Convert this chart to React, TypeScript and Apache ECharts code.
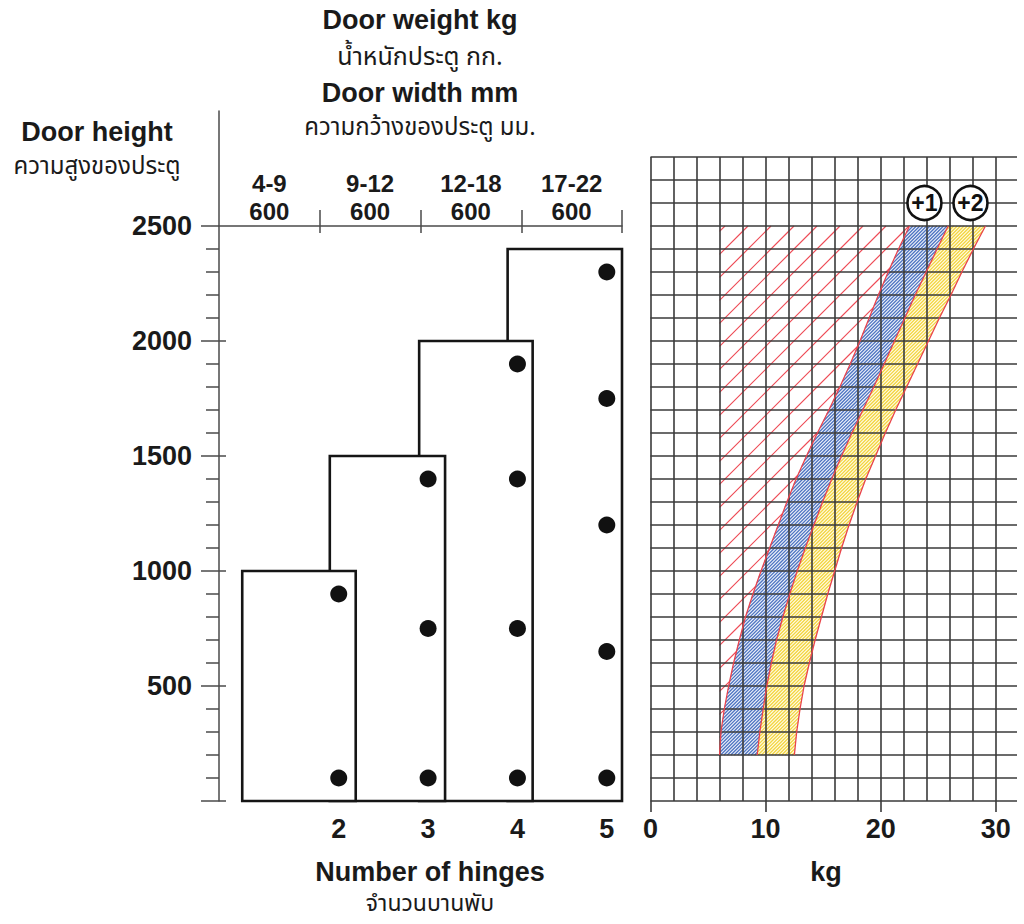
import React, { useEffect, useRef } from "react";
import * as echarts from "echarts";

// ---------- Data ----------
const weightRanges = ["4-9", "9-12", "12-18", "17-22"];
const doorWidths = ["600", "600", "600", "600"];
const headerCenters = [0.5, 1.5, 2.5, 3.5];
const headerSeparators = [1, 2, 3, 4];

const hingeCounts = [2, 3, 4, 5];
const maxDoorHeights = [1000, 1500, 2000, 2400];
const rectLeft = [0.92, 1.9, 2.9, 3.89];
const rectRight = [2.19, 3.19, 4.17, 5.17];
const hingePositions = [
  [900, 100],
  [1400, 750, 100],
  [1900, 1400, 750, 100],
  [2300, 1750, 1200, 650, 100],
];

const heightLabels = [500, 1000, 1500, 2000, 2500];
const heightMajorTicks = [0, 500, 1000, 1500, 2000, 2500];
const heightInnerTicks = [0, 500, 1000, 1500, 2000];
const heightMinorTicks = [
  100, 200, 300, 400, 600, 700, 800, 900, 1100, 1200, 1300, 1400, 1600, 1700,
  1800, 1900, 2100, 2200, 2300, 2400,
];

const curveHeights = [
  200, 300, 400, 500, 600, 700, 800, 900, 1000, 1100, 1200, 1300, 1400, 1500,
  1600, 1700, 1800, 1900, 2000, 2100, 2200, 2300, 2400, 2500,
];
const bandLowerKg = [
  6.0, 6.12, 6.41, 6.79, 7.22, 7.72, 8.25, 8.9, 9.6, 10.35, 11.1, 11.85, 12.65,
  13.55, 14.5, 15.5, 16.45, 17.35, 18.2, 19.0, 19.8, 20.65, 21.55, 22.5,
];
const bandMidKg = [
  9.27, 9.5, 9.79, 10.1, 10.5, 10.95, 11.5, 12.1, 12.75, 13.45, 14.2, 14.95,
  15.75, 16.6, 17.5, 18.45, 19.4, 20.3, 21.2, 22.1, 23.0, 23.95, 24.9, 25.86,
];
const bandUpperKg = [
  12.5, 12.7, 12.99, 13.34, 13.8, 14.3, 14.85, 15.4, 16.0, 16.6, 17.25, 17.95,
  18.7, 19.55, 20.4, 21.3, 22.25, 23.2, 24.15, 25.1, 26.1, 27.05, 28.05, 29.1,
];
const hatchMinKg = 6;
const weightTicks = [0, 10, 20, 30];
const markerLabels = ["+1", "+2"];
const markerKg = [23.8, 27.8];
const markerHeight = 2600;

// ---------- Helpers ----------
const FONT = "'Liberation Sans', Arial, Helvetica, sans-serif";
const THAI = "'Noto Sans Thai', 'Noto Sans Thai Looped', 'Loma', 'Garuda', 'Noto Sans', 'DejaVu Sans', sans-serif";

function hatchPath(poly: number[][], step: number, phase: number): string {
  let minC = Infinity;
  let maxC = -Infinity;
  for (const p of poly) {
    const c = p[0] + p[1];
    if (c < minC) minC = c;
    if (c > maxC) maxC = c;
  }
  const n = poly.length;
  let d = "";
  const c0 = Math.ceil((minC - phase) / step) * step + phase;
  for (let c = c0; c <= maxC; c += step) {
    const xs: number[] = [];
    for (let i = 0; i < n; i++) {
      const P = poly[i];
      const Q = poly[(i + 1) % n];
      const a = P[0] + P[1];
      const b = Q[0] + Q[1];
      if ((a <= c && b > c) || (b <= c && a > c)) {
        const t = (c - a) / (b - a);
        xs.push(P[0] + t * (Q[0] - P[0]));
      }
    }
    xs.sort((u, v) => u - v);
    for (let k = 0; k + 1 < xs.length; k += 2) {
      const x1 = xs[k];
      const x2 = xs[k + 1];
      d += `M${x1.toFixed(2)} ${(c - x1).toFixed(2)}L${x2.toFixed(2)} ${(c - x2).toFixed(2)}`;
    }
  }
  return d;
}

function hatchSeries(
  region: number[][],
  fill: string,
  stroke: string,
  step: number,
  phase: number,
  lineWidth: number
) {
  return {
    type: "custom",
    xAxisIndex: 5,
    yAxisIndex: 5,
    z: 1,
    silent: true,
    data: [[0, 0]],
    renderItem: (_params: any, api: any) => {
      const pts = region.map((p) => api.coord(p));
      return {
        type: "group",
        children: [
          {
            type: "polygon",
            shape: { points: pts },
            style: { fill, stroke: "none" },
          },
          {
            type: "path",
            shape: { pathData: hatchPath(pts, step, phase) },
            style: { fill: "none", stroke, lineWidth },
          },
        ],
      };
    },
  };
}

const lowerPts = curveHeights.map((h, i) => [bandLowerKg[i], h]);
const midPts = curveHeights.map((h, i) => [bandMidKg[i], h]);
const upperPts = curveHeights.map((h, i) => [bandUpperKg[i], h]);

const redRegion = [
  [hatchMinKg, curveHeights[curveHeights.length - 1]],
  [hatchMinKg, curveHeights[0]],
  ...lowerPts,
];
const blueRegion = [...lowerPts, ...midPts.slice().reverse()];
const yellowRegion = [...midPts, ...upperPts.slice().reverse()];

export default function App() {
  const ref = useRef<HTMLDivElement>(null);

  useEffect(() => {
    if (!ref.current) return;
    const chart = echarts.init(ref.current, undefined, { renderer: "svg" });

    const axisColor = "#4a4a4a";
    const gridColor = "#3a3a3a";
    const labelStyle = { fontFamily: FONT, fontWeight: "bold", fontSize: 27, color: "#1a1a1a" };
    const headerStyle = { fontFamily: FONT, fontWeight: "bold", fontSize: 24, color: "#1a1a1a" };
    const plain = (v: number) => String(v);

    const dots: number[][] = [];
    hingeCounts.forEach((n, i) => hingePositions[i].forEach((h) => dots.push([n, h])));

    const option: any = {
      animation: false,
      backgroundColor: "#ffffff",
      grid: [
        { left: 219, top: 111, width: 403, height: 690 }, // 0 left chart
        { left: 219, top: 150, width: 403, height: 76 }, // 1 header axis
        { left: 650.5, top: 157, width: 366.5, height: 644 }, // 2 horizontal grid lines
        { left: 650.5, top: 157, width: 345.3, height: 644 }, // 3 right chart
      ],
      xAxis: [
        {
          gridIndex: 0,
          type: "value",
          min: 0.66,
          max: 5.17,
          axisLine: { show: false },
          axisTick: { show: false },
          splitLine: { show: false },
          axisLabel: { ...labelStyle, customValues: hingeCounts, margin: 14, formatter: plain },
        },
        {
          gridIndex: 1,
          type: "value",
          position: "bottom",
          min: 0,
          max: 4,
          axisLine: { show: true, lineStyle: { color: axisColor, width: 1.5 } },
          axisTick: {
            show: true,
            inside: true,
            length: 16,
            customValues: headerSeparators,
            lineStyle: { color: axisColor, width: 1.5 },
          },
          splitLine: { show: false },
          axisLabel: {
            ...headerStyle,
            inside: true,
            margin: 3,
            customValues: headerCenters,
            formatter: (v: number) => doorWidths[Math.floor(v)],
          },
        },
        {
          gridIndex: 1,
          type: "value",
          position: "bottom",
          min: 0,
          max: 4,
          axisLine: { show: false },
          axisTick: {
            show: true,
            length: 7,
            customValues: headerSeparators,
            lineStyle: { color: axisColor, width: 1.5 },
          },
          splitLine: { show: false },
          axisLabel: {
            ...headerStyle,
            inside: true,
            margin: 31,
            customValues: headerCenters,
            formatter: (v: number) => weightRanges[Math.floor(v)],
          },
        },
        { gridIndex: 2, type: "value", min: 0, max: 1, show: false },
        {
          gridIndex: 3,
          type: "value",
          min: 0,
          max: 30,
          z: 3,
          axisLine: { show: false },
          axisTick: {
            show: true,
            length: 11,
            customValues: weightTicks,
            lineStyle: { color: gridColor, width: 1.6 },
          },
          splitLine: { show: false },
          axisLabel: { ...labelStyle, customValues: weightTicks, margin: 14, formatter: plain },
        },
        {
          gridIndex: 3,
          type: "value",
          min: 0,
          max: 30,
          interval: 2,
          z: 3,
          axisLine: { show: false },
          axisTick: { show: false },
          axisLabel: { show: false },
          splitLine: { show: true, lineStyle: { color: gridColor, width: 1.6 } },
        },
      ],
      yAxis: [
        {
          gridIndex: 0,
          type: "value",
          position: "left",
          min: 0,
          max: 3000,
          axisLine: { show: true, lineStyle: { color: axisColor, width: 1.5 } },
          axisTick: {
            show: true,
            length: 18,
            customValues: heightMajorTicks,
            lineStyle: { color: axisColor, width: 1.5 },
          },
          splitLine: { show: false },
          axisLabel: { ...labelStyle, customValues: heightLabels, margin: 27, formatter: plain },
        },
        {
          gridIndex: 0,
          type: "value",
          position: "left",
          offset: 0,
          min: 0,
          max: 3000,
          axisLine: { show: false },
          axisTick: {
            show: true,
            inside: true,
            length: 7,
            customValues: heightInnerTicks,
            lineStyle: { color: axisColor, width: 1.5 },
          },
          splitLine: { show: false },
          axisLabel: { show: false },
        },
        {
          gridIndex: 0,
          type: "value",
          position: "left",
          offset: 0,
          min: 0,
          max: 3000,
          axisLine: { show: false },
          axisTick: {
            show: true,
            length: 13,
            customValues: heightMinorTicks,
            lineStyle: { color: axisColor, width: 1.5 },
          },
          splitLine: { show: false },
          axisLabel: { show: false },
        },
        { gridIndex: 1, type: "value", min: 0, max: 1, show: false },
        {
          gridIndex: 2,
          type: "value",
          min: 0,
          max: 2800,
          interval: 100,
          z: 3,
          axisLine: { show: false },
          axisTick: { show: false },
          axisLabel: { show: false },
          splitLine: { show: true, lineStyle: { color: gridColor, width: 1.6 } },
        },
        { gridIndex: 3, type: "value", min: 0, max: 2800, show: false },
      ],
      series: [
        {
          type: "custom",
          xAxisIndex: 0,
          yAxisIndex: 0,
          z: 2,
          data: maxDoorHeights.map((h, i) => [rectLeft[i], rectRight[i], h, i]),
          renderItem: (_params: any, api: any) => {
            const p0 = api.coord([api.value(0), api.value(2)]);
            const p1 = api.coord([api.value(1), 0]);
            return {
              type: "rect",
              z2: 10 - api.value(3),
              shape: { x: p0[0], y: p0[1], width: p1[0] - p0[0], height: p1[1] - p0[1] },
              style: { fill: "#ffffff", stroke: "#151515", lineWidth: 2.6 },
            };
          },
        },
        {
          type: "scatter",
          xAxisIndex: 0,
          yAxisIndex: 0,
          z: 5,
          symbol: "circle",
          symbolSize: 17,
          itemStyle: { color: "#111111", opacity: 1 },
          data: dots,
        },
        hatchSeries(redRegion, "rgba(255,255,255,0)", "#ee4c57", 23, 8, 1.2),
        hatchSeries(blueRegion, "#eef2fa", "#4f75c2", 3.4, 0, 1.3),
        hatchSeries(yellowRegion, "#fffbe6", "#f3d540", 3.4, 0, 1.3),
        ...[lowerPts, midPts, upperPts].map((pts) => ({
          type: "line",
          xAxisIndex: 5,
          yAxisIndex: 5,
          z: 4,
          symbol: "none",
          silent: true,
          lineStyle: { color: "#e8434d", width: 1.3 },
          data: pts,
        })),
        {
          type: "scatter",
          xAxisIndex: 5,
          yAxisIndex: 5,
          z: 10,
          symbol: "circle",
          symbolSize: 34,
          itemStyle: { color: "#ffffff", borderColor: "#111111", borderWidth: 2.6, opacity: 1 },
          label: {
            show: true,
            position: "inside",
            formatter: (p: any) => markerLabels[p.dataIndex],
            fontFamily: FONT,
            fontWeight: "bold",
            fontSize: 23,
            color: "#111111",
          },
          data: markerKg.map((k) => [k, markerHeight]),
        },
      ],
      graphic: [
        { type: "text", x: 420, y: 20, style: { text: "Door weight kg", font: `bold 27px ${FONT}`, fill: "#1a1a1a", align: "center", verticalAlign: "middle" } },
        { type: "text", x: 420, y: 57, style: { text: "น้ำหนักประตู กก.", font: `25px ${THAI}`, fill: "#1a1a1a", align: "center", verticalAlign: "middle" } },
        { type: "text", x: 420, y: 93, style: { text: "Door width mm", font: `bold 27px ${FONT}`, fill: "#1a1a1a", align: "center", verticalAlign: "middle" } },
        { type: "text", x: 420, y: 128, style: { text: "ความกว้างของประตู มม.", font: `24px ${THAI}`, fill: "#1a1a1a", align: "center", verticalAlign: "middle" } },
        { type: "text", x: 97, y: 132, style: { text: "Door height", font: `bold 27px ${FONT}`, fill: "#1a1a1a", align: "center", verticalAlign: "middle" } },
        { type: "text", x: 97, y: 167, style: { text: "ความสูงของประตู", font: `24px ${THAI}`, fill: "#1a1a1a", align: "center", verticalAlign: "middle" } },
        { type: "text", x: 430, y: 872, style: { text: "Number of hinges", font: `bold 27px ${FONT}`, fill: "#1a1a1a", align: "center", verticalAlign: "middle" } },
        { type: "text", x: 430, y: 904, style: { text: "จำนวนบานพับ", font: `23px ${THAI}`, fill: "#1a1a1a", align: "center", verticalAlign: "middle" } },
        { type: "text", x: 826, y: 872, style: { text: "kg", font: `bold 27px ${FONT}`, fill: "#1a1a1a", align: "center", verticalAlign: "middle" } },
      ],
    };

    chart.setOption(option);
    return () => chart.dispose();
  }, []);

  return (
    <div
      ref={ref}
      style={{ position: "absolute", left: 0, top: 0, width: 1024, height: 924, background: "#fff" }}
    />
  );
}
